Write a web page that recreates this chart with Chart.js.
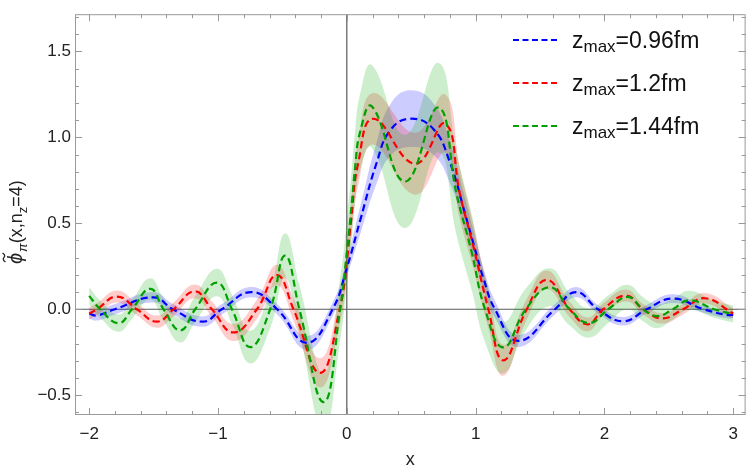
<!DOCTYPE html>
<html>
<head>
<meta charset="utf-8">
<script src="https://cdn.jsdelivr.net/npm/chart.js@4.4.1/dist/chart.umd.min.js"></script>
<style>
  html, body { margin: 0; padding: 0; background: #fff; }
  #wrap { width: 747px; height: 471px; }
</style>
</head>
<body>
<div id="wrap"><canvas id="c" width="747" height="471"></canvas></div>
<script>
  // ---- data ----
  const X_TICKS = [-2, -1, 0, 1, 2, 3];
  const Y_TICKS = [-0.5, 0, 0.5, 1.0, 1.5];

  // z_max = 0.96 fm (blue)
  const X_096 = [-2.0, -1.94, -1.80, -1.50, -1.35, -1.12, -0.97, -0.74, -0.54, -0.31, -0.11, 0.0, 0.105, 0.233, 0.336, 0.49, 0.67, 0.80, 0.918, 1.009, 1.06, 1.15, 1.331, 1.616, 1.78, 1.95, 2.146, 2.327, 2.53, 2.77, 2.96, 3.0];
  const Y_096 = [-0.025, -0.036, 0.0, 0.069, 0.0, -0.072, 0.0, 0.10, 0.0, -0.195, 0.0, 0.24, 0.52, 0.855, 1.04, 1.108, 1.05, 0.855, 0.555, 0.312, 0.181, 0.0, -0.184, 0.0, 0.10, 0.0, -0.07, 0.0, 0.062, 0.0, -0.034, -0.031];
  const E_096 = [0.03, 0.03, 0.03, 0.03, 0.03, 0.03, 0.03, 0.03, 0.03, 0.04, 0.04, 0.05, 0.08, 0.12, 0.15, 0.165, 0.15, 0.12, 0.09, 0.07, 0.06, 0.05, 0.035, 0.03, 0.03, 0.025, 0.025, 0.025, 0.025, 0.02, 0.02, 0.02];

  // z_max = 1.2 fm (red)
  const X_12 = [-2.0, -1.94, -1.784, -1.63, -1.474, -1.345, -1.18, -1.047, -0.88, -0.698, -0.543, -0.414, -0.207, -0.055, 0.0, 0.031, 0.09, 0.207, 0.53, 0.763, 0.879, 0.982, 1.099, 1.215, 1.397, 1.552, 1.73, 1.87, 1.99, 2.17, 2.30, 2.45, 2.61, 2.78, 3.0];
  const Y_12 = [-0.025, 0.0, 0.074, 0.0, -0.072, 0.0, 0.104, 0.0, -0.135, 0.0, 0.199, 0.0, -0.37, 0.0, 0.28, 0.50, 0.855, 1.108, 0.846, 1.08, 0.667, 0.368, 0.0, -0.297, 0.0, 0.171, 0.0, -0.088, 0.0, 0.08, 0.0, -0.053, 0.0, 0.064, -0.025];
  const E_12 = [0.035, 0.035, 0.035, 0.035, 0.035, 0.04, 0.04, 0.045, 0.05, 0.055, 0.06, 0.065, 0.085, 0.09, 0.1, 0.11, 0.13, 0.15, 0.18, 0.17, 0.15, 0.13, 0.11, 0.09, 0.06, 0.055, 0.045, 0.04, 0.035, 0.035, 0.03, 0.03, 0.03, 0.03, 0.03];

  // z_max = 1.44 fm (green)
  const X_144 = [-2.0, -1.914, -1.772, -1.668, -1.526, -1.423, -1.293, -1.177, -1.009, -0.892, -0.75, -0.595, -0.479, -0.368, -0.18, -0.052, 0.0, 0.039, 0.064, 0.103, 0.194, 0.452, 0.711, 0.853, 0.97, 1.073, 1.215, 1.39, 1.577, 1.73, 1.88, 2.03, 2.18, 2.30, 2.41, 2.53, 2.66, 2.85, 3.0];
  const Y_144 = [0.078, 0.0, -0.081, 0.0, 0.119, 0.0, -0.123, 0.0, 0.155, 0.0, -0.22, 0.0, 0.312, 0.0, -0.54, 0.0, 0.33, 0.62, 0.82, 1.03, 1.18, 0.743, 1.173, 0.667, 0.33, 0.0, -0.222, 0.0, 0.128, 0.0, -0.08, 0.0, 0.072, 0.0, -0.04, 0.0, 0.052, 0.0, -0.028];
  const E_144 = [0.05, 0.05, 0.05, 0.055, 0.062, 0.065, 0.07, 0.075, 0.08, 0.085, 0.095, 0.11, 0.13, 0.14, 0.165, 0.18, 0.19, 0.2, 0.21, 0.22, 0.24, 0.27, 0.26, 0.24, 0.22, 0.19, 0.15, 0.12, 0.11, 0.095, 0.085, 0.08, 0.07, 0.07, 0.07, 0.06, 0.055, 0.05, 0.05];

  const SERIES = [
    { name: "0.96fm", xs: X_096, ys: Y_096, es: E_096, line: "#0000ff", band: "rgba(0,0,255,0.2)" },
    { name: "1.2fm",  xs: X_12,  ys: Y_12,  es: E_12,  line: "#ff0000", band: "rgba(255,0,0,0.2)" },
    { name: "1.44fm", xs: X_144, ys: Y_144, es: E_144, line: "#00a000", band: "rgba(0,170,0,0.2)" },
  ];

  const FONT = "'Liberation Sans', Arial, sans-serif";
  const TENSION = 0.45;
  const minus = (s) => s.replace("-", "\u2212");

  const pts = (xs, ys) => xs.map((x, i) => ({ x, y: ys[i] }));

  const datasets = [];
  SERIES.forEach((s, k) => {
    const hi = s.xs.map((x, i) => ({ x, y: s.ys[i] + s.es[i] }));
    const lo = s.xs.map((x, i) => ({ x, y: s.ys[i] - s.es[i] }));
    datasets.push({
      data: hi, fill: "+1", backgroundColor: s.band, borderWidth: 0,
      pointRadius: 0, tension: TENSION, order: 20 - k,
    });
    datasets.push({
      data: lo, fill: false, borderWidth: 0, borderColor: "transparent",
      pointRadius: 0, tension: TENSION, order: 20 - k,
    });
  });
  SERIES.forEach((s, k) => {
    datasets.push({
      data: pts(s.xs, s.ys), fill: false, borderColor: s.line, borderWidth: 2.2,
      borderDash: [7, 4], pointRadius: 0, tension: TENSION, order: 5 - k,
    });
  });

  // frame, inward ticks, zero axes, titles, legend
  const frame = {
    id: "frame",
    beforeDatasetsDraw(chart) {
      const { ctx, chartArea: a, scales: { x, y } } = chart;
      ctx.save();
      ctx.strokeStyle = "rgba(0,0,0,0.65)";
      ctx.lineWidth = 1.2;
      const x0 = x.getPixelForValue(0), y0 = y.getPixelForValue(0);
      ctx.beginPath();
      ctx.moveTo(x0, a.top); ctx.lineTo(x0, a.bottom);
      ctx.moveTo(a.left, y0); ctx.lineTo(a.right, y0);
      ctx.stroke();
      ctx.restore();
    },
    afterDraw(chart) {
      const { ctx, chartArea: a, scales: { x, y } } = chart;
      ctx.save();
      ctx.strokeStyle = "#999";
      ctx.lineWidth = 1;
      ctx.strokeRect(a.left + 0.5, a.top + 0.5, a.right - a.left - 1, a.bottom - a.top - 1);
      ctx.beginPath();
      for (let i = -11; i <= 16; i++) {
        const v = i * 0.2;
        if (v < x.min || v > x.max) continue;
        const p = Math.round(x.getPixelForValue(v)) + 0.5;
        const len = i % 5 === 0 ? 7 : 4;
        ctx.moveTo(p, a.bottom); ctx.lineTo(p, a.bottom - len);
        ctx.moveTo(p, a.top); ctx.lineTo(p, a.top + len);
      }
      for (let i = -6; i <= 17; i++) {
        const v = i * 0.1;
        if (v < y.min || v > y.max) continue;
        const p = Math.round(y.getPixelForValue(v)) + 0.5;
        const len = i % 5 === 0 ? 7 : 4;
        ctx.moveTo(a.left, p); ctx.lineTo(a.left + len, p);
        ctx.moveTo(a.right, p); ctx.lineTo(a.right - len, p);
      }
      ctx.stroke();

      // x axis title
      ctx.fillStyle = "#222";
      ctx.font = "18px " + FONT;
      ctx.textAlign = "center";
      ctx.textBaseline = "alphabetic";
      ctx.fillText("x", (a.left + a.right) / 2, 465);

      // y axis title, rotated
      ctx.save();
      ctx.translate(22, 264);
      ctx.rotate(-Math.PI / 2);
      ctx.textAlign = "left";
      let cx = 0;
      const part = (t, size, dy, italic) => {
        ctx.font = (italic ? "italic " : "") + size + "px " + FONT;
        ctx.fillText(t, cx, dy);
        const w = ctx.measureText(t).width;
        cx += w;
        return w;
      };
      const phiW = part("\u03d5", 20, 0, true);
      // tilde over phi
      const tc = cx - phiW / 2 + 1;
      ctx.strokeStyle = "#222";
      ctx.lineWidth = 1.3;
      ctx.beginPath();
      ctx.moveTo(tc - 4.5, -16.5);
      ctx.quadraticCurveTo(tc - 2.25, -20, tc, -18);
      ctx.quadraticCurveTo(tc + 2.25, -16, tc + 4.5, -19.5);
      ctx.stroke();
      cx += 1;
      part("\u03c0", 13, 5, true);
      part("(x,n", 18, 0, false);
      part("z", 13, 5, false);
      part("=4)", 18, 0, false);
      ctx.restore();

      // legend
      const rows = [40, 83, 126];
      SERIES.forEach((s, k) => {
        const yy = rows[k];
        ctx.strokeStyle = s.line;
        ctx.lineWidth = 2;
        ctx.setLineDash([6, 3.5]);
        ctx.beginPath();
        ctx.moveTo(513, yy); ctx.lineTo(560, yy);
        ctx.stroke();
        ctx.setLineDash([]);
        ctx.fillStyle = "#111";
        ctx.textAlign = "left";
        let tx = 572;
        ctx.font = "23px " + FONT;
        ctx.fillText("z", tx, yy + 8);
        tx += ctx.measureText("z").width;
        ctx.font = "17px " + FONT;
        ctx.fillText("max", tx, yy + 12);
        tx += ctx.measureText("max").width;
        ctx.font = "23px " + FONT;
        ctx.fillText("=" + s.name, tx, yy + 8);
      });
      ctx.restore();
    },
  };

  new Chart(document.getElementById("c"), {
    type: "line",
    data: { datasets },
    options: {
      responsive: false,
      devicePixelRatio: 1,
      animation: false,
      events: [],
      layout: { padding: { left: 0, right: 1, top: 0, bottom: 0 } },
      plugins: { legend: { display: false }, tooltip: { enabled: false } },
      scales: {
        x: {
          type: "linear", min: -2.11, max: 3.096,
          afterBuildTicks: (s) => { s.ticks = X_TICKS.map((v) => ({ value: v })); },
          afterFit: (s) => { s.height = 56; },
          grid: { display: false, drawTicks: false },
          border: { display: false },
          ticks: {
            padding: 9, color: "#222", font: { family: FONT, size: 17 },
            maxRotation: 0, callback: (v) => minus(String(v)),
          },
        },
        y: {
          type: "linear", min: -0.615, max: 1.716,
          afterBuildTicks: (s) => { s.ticks = Y_TICKS.map((v) => ({ value: v })); },
          afterFit: (s) => { s.width = 75; },
          grid: { display: false, drawTicks: false },
          border: { display: false },
          ticks: {
            padding: 4, color: "#222", font: { family: FONT, size: 17 },
            callback: (v) => minus(Number(v).toFixed(1)),
          },
        },
      },
    },
    plugins: [frame],
  });
</script>
</body>
</html>
